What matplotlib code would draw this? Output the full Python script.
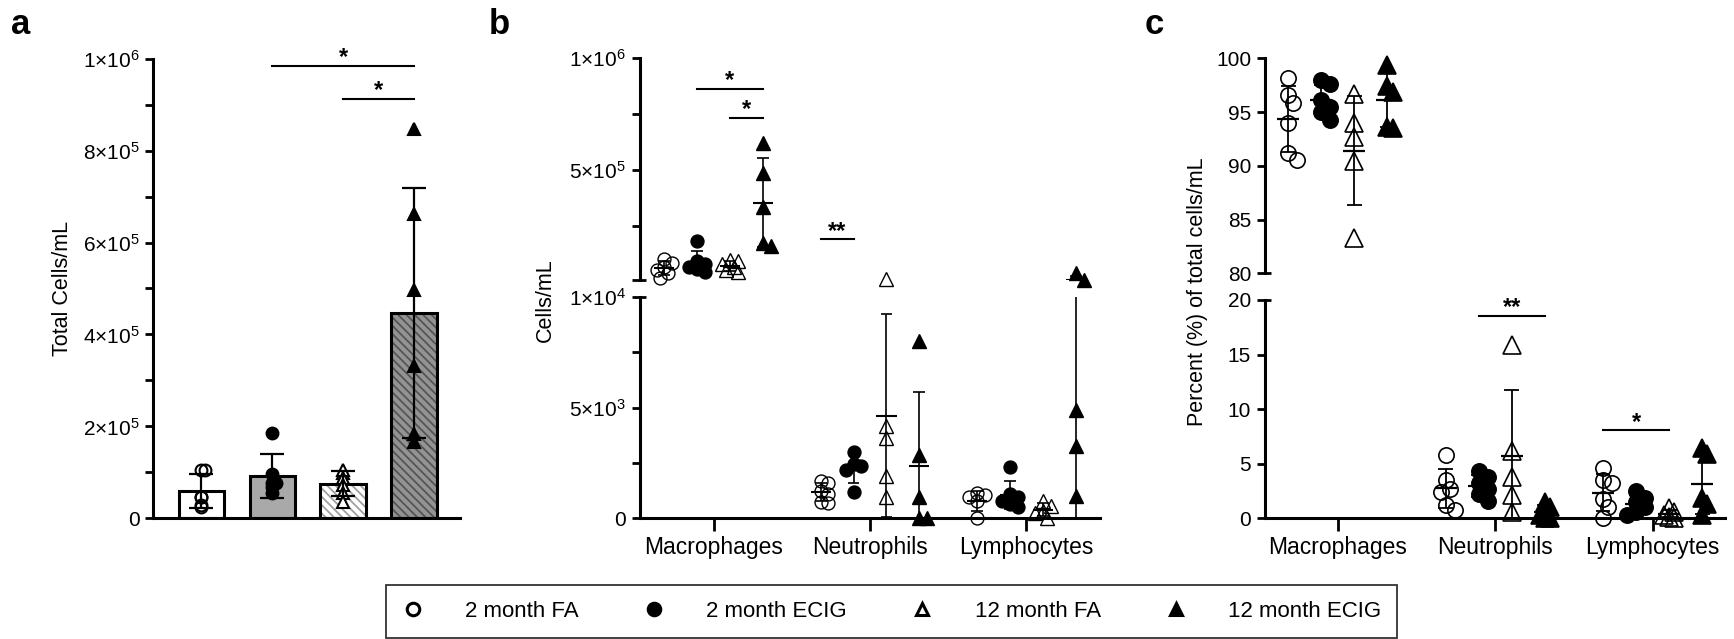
import numpy as np
import matplotlib
matplotlib.use("Agg")
import matplotlib.pyplot as plt
from matplotlib.lines import Line2D

plt.rcParams['font.family'] = ['Liberation Sans', 'DejaVu Sans']
plt.rcParams['mathtext.fontset'] = 'custom'
plt.rcParams['mathtext.rm'] = 'Liberation Sans'
plt.rcParams['mathtext.it'] = 'Liberation Sans:italic'
plt.rcParams['mathtext.bf'] = 'Liberation Sans:bold'
plt.rcParams['hatch.linewidth'] = 1.3

W, H = 1734, 639

groups = ['2 month FA', '2 month ECIG', '12 month FA', '12 month ECIG']
cell_types = ['Macrophages', 'Neutrophils', 'Lymphocytes']

# panel a - total cells/mL per animal
total_fa2 = [105e3, 105e3, 47e3, 29e3, 25e3, 46e3]
total_ecig2 = [186e3, 96e3, 76e3, 69e3, 76e3, 54e3]
total_fa12 = [98e3, 105e3, 87e3, 72e3, 56e3, 36e3]
total_ecig12 = [846e3, 662e3, 496e3, 331e3, 167e3, 183e3]

# panel b - cells/mL by cell type (fa2, ecig2, fa12, ecig12)
mac_cells = [[105e3, 85e3, 70e3, 55e3, 40e3, 20e3],
             [185e3, 95e3, 80e3, 70e3, 60e3, 45e3],
             [100e3, 95e3, 80e3, 70e3, 55e3, 45e3],
             [620e3, 487e3, 337e3, 175e3, 160e3]]
neu_cells = [[1700, 1600, 1250, 1100, 750, 700],
             [3000, 2450, 2350, 2200, 1200],
             [12500, 4150, 3650, 1900, 950],
             [8000, 2850, 950, 0, 0]]
lym_cells = [[1150, 1050, 950, 800, 0],
             [2300, 1100, 950, 800, 650, 500],
             [800, 550, 350, 250, 0],
             [40000, 10500, 4900, 3250, 1000]]

# panel c - percent of total cells/mL
mac_pct = [[98.2, 96.6, 95.8, 94.0, 91.2, 90.5],
           [98.0, 97.6, 96.1, 95.5, 95.0, 94.3],
           [96.7, 94.0, 92.7, 90.4, 83.3],
           [99.4, 97.4, 96.9, 93.6, 93.5]]
neu_pct = [[5.8, 3.5, 2.7, 2.4, 1.2, 0.8],
           [4.3, 3.8, 3.2, 2.7, 2.2, 1.6],
           [15.9, 6.2, 3.8, 2.1, 0.6],
           [1.5, 1.0, 0.3, 0.0, 0.0]]
lym_pct = [[4.6, 3.5, 3.2, 1.8, 1.0, 0.0],
           [2.5, 1.9, 1.5, 1.0, 0.6, 0.3],
           [0.9, 0.6, 0.3, 0.1, 0.0],
           [6.4, 5.9, 1.9, 1.3, 0.3]]

# significance bars: (category, group_from, group_to), height, label
sig_a_pairs = [(1, 3), (2, 3)]
sig_a_heights = [9.85e5, 9.13e5]
sig_b_pairs = [(0, 1, 3), (0, 2, 3), (1, 0, 1)]
sig_b_heights = [8.65e5, 7.35e5, 1.91e5]
sig_b_labels = ['*', '*', '**']
sig_c_pairs = [(1, 1, 3), (2, 0, 2)]
sig_c_heights = [18.56, 8.06]
sig_c_labels = ['**', '*']

offsets = np.array([-1.5, -0.5, 0.5, 1.5]) * 0.21
markers = ['o', 'o', '^', '^']
filled = [False, True, False, True]


def rect(x0, y0, x1, y1):
    # pixel box (top-left origin) -> figure fraction
    return [x0 / W, 1 - y1 / H, (x1 - x0) / W, (y1 - y0) / H]


def sci_label(v):
    if v == 0:
        return '0'
    e = int(np.floor(np.log10(v)))
    return r'$\mathregular{%d{\times}10^{%d}}$' % (round(v / 10 ** e), e)


def swarm_x(ax, xc, vals, ms, maxoff, frac=0.85):
    # simple beeswarm in pixel space so stacked points spread sideways
    vals = np.asarray(vals, float)
    if len(vals) == 0:
        return vals
    d = ms * fig.dpi / 72 * frac
    pts = ax.transData.transform(np.column_stack([np.full(len(vals), xc), vals]))
    x0 = pts[0, 0]
    cands = [0.0]
    k = 1
    while k * d / 2 <= maxoff:
        cands += [k * d / 2, -k * d / 2]
        k += 1
    placed = []
    xs = np.empty(len(vals))
    for i in np.argsort(-vals):
        y = pts[i, 1]
        best, bestd = 0.0, -1
        for off in cands:
            md = min([np.hypot(off - px, y - py) for px, py in placed] + [1e9])
            if md >= d:
                best = off
                break
            if md > bestd:
                best, bestd = off, md
        placed.append((best, y))
        xs[i] = x0 + best
    return ax.transData.inverted().transform(np.column_stack([xs, pts[:, 1]]))[:, 0]


def style_yaxis(ax):
    for s in ['top', 'right']:
        ax.spines[s].set_visible(False)
    ax.spines['left'].set_linewidth(2.2)
    ax.spines['bottom'].set_linewidth(2.2)
    ax.tick_params(axis='y', length=6, width=2, labelsize=15, pad=4)
    ax.tick_params(axis='y', which='minor', length=6, width=2)


def end_cap(ax, y):
    ax.plot([0, 0.014], [y, y], transform=ax.get_yaxis_transform(), color='k',
            lw=2, clip_on=False, solid_capstyle='butt')


def seg_errorbar(ax, xc, m, s, lo, hi, capw, meanw, lw):
    # mean +/- SD, only the part that falls inside this axis segment
    a, b = max(m - s, lo), min(m + s, hi)
    if b > a:
        ax.vlines(xc, a, b, color='k', lw=lw, zorder=4)
    for y in (m - s, m + s):
        if lo <= y <= hi:
            ax.hlines(y, xc - capw / 2, xc + capw / 2, color='k', lw=lw, zorder=4)
    if lo <= m <= hi:
        ax.hlines(m, xc - meanw / 2, xc + meanw / 2, color='k', lw=lw + 0.3, zorder=4)


def draw_cats(ax, cat_data, split, upper, ms_c, ms_t, mew, elw, capw, meanw):
    lo, hi = ax.get_ylim()
    for ci, data in enumerate(cat_data):
        for gi, vals in enumerate(data):
            vals = np.asarray(vals, float)
            xc = ci + offsets[gi]
            seg_errorbar(ax, xc, vals.mean(), vals.std(ddof=1), lo, hi, capw, meanw, elw)
            sel = vals[vals > split] if upper else vals[vals <= split]
            if len(sel) == 0:
                continue
            ms = ms_c if markers[gi] == 'o' else ms_t
            xs = swarm_x(ax, xc, sel, ms, 10, 0.6)
            ax.plot(xs, sel, linestyle='none', marker=markers[gi], ms=ms,
                    mfc='k' if filled[gi] else 'none', mec='k', mew=mew,
                    clip_on=False, zorder=3.5)


def sig_line(ax, x1, x2, y, label, off=1):
    ax.plot([x1, x2], [y, y], color='k', lw=1.5, clip_on=False)
    ax.annotate(label, ((x1 + x2) / 2, y), xytext=(0, off), textcoords='offset points',
                ha='center', va='baseline', fontsize=17, fontweight='bold', annotation_clip=False)


fig = plt.figure(figsize=(W / 100, H / 100), dpi=100)

# ---------------- panel a ----------------
axa = fig.add_axes(rect(153.3, 58.7, 460, 518.3))
totals = [total_fa2, total_ecig2, total_fa12, total_ecig12]
bar_fill = ['white', '#a9a9a9', 'white', '#939393']
bar_hatch = [None, None, '\\\\\\\\', '\\\\\\\\']
hatch_col = ['k', 'k', '#a0a0a0', '#555555']
means_a = [np.mean(t) for t in totals]
sds_a = [np.std(t, ddof=1) for t in totals]
xa = np.arange(4)
for i in range(4):
    axa.bar(xa[i], means_a[i], width=0.64, color=bar_fill[i], hatch=bar_hatch[i],
            edgecolor=hatch_col[i], linewidth=0, zorder=1)
    axa.bar(xa[i], means_a[i], width=0.64, fill=False, edgecolor='k', linewidth=2.2, zorder=1.5)
axa.errorbar(xa, means_a, yerr=sds_a, fmt='none', ecolor='k', elinewidth=1.6,
             capsize=8.5, capthick=1.6, zorder=4)
for i in range(4):
    xs = swarm_x(axa, xa[i], totals[i], 8.5, 18, 1.4)
    axa.plot(xs, totals[i], linestyle='none', marker=markers[i], ms=8.5,
             mfc='k' if filled[i] else ('white' if markers[i] == '^' else 'none'),
             mec='k', mew=1.5, clip_on=False, zorder=3.5)
axa.set_xlim(-0.68, 3.65)
axa.set_ylim(0, 1e6)
yt = np.arange(0, 1.01e6, 2e5)
axa.set_yticks(yt, [sci_label(v) for v in yt])
axa.set_yticks(np.arange(1e5, 1e6, 2e5), minor=True)
style_yaxis(axa)
axa.tick_params(axis='x', bottom=False, labelbottom=False)
for (g1, g2), h in zip(sig_a_pairs, sig_a_heights):
    sig_line(axa, xa[g1], xa[g2], h, '*')

# ---------------- panel b ----------------
bt = fig.add_axes(rect(640, 58.3, 1100, 280))
bb = fig.add_axes(rect(640, 297, 1100, 518.3), sharex=bt)
cells = [mac_cells, neu_cells, lym_cells]
for ax in (bt, bb):
    ax.set_xlim(-0.47, 2.47)
bt.set_ylim(1e4, 1e6)
bb.set_ylim(0, 1e4)
draw_cats(bt, cells, 1e4, True, 9.3, 9.5, 1.0, 1.2, 0.075, 0.13)
draw_cats(bb, cells, 1e4, False, 9.3, 9.5, 1.0, 1.2, 0.075, 0.13)
bt.set_yticks([1e4, 2.5e5, 5e5, 7.5e5, 1e6], ['', '', sci_label(5e5), '', sci_label(1e6)])
bb.set_yticks([0, 2500, 5000, 7500, 10000], ['0', '', sci_label(5e3), '', sci_label(1e4)])

# ---------------- panel c ----------------
ct = fig.add_axes(rect(1265, 58.3, 1725, 273.3))
cb = fig.add_axes(rect(1265, 300, 1725, 518.3), sharex=ct)
pcts = [mac_pct, neu_pct, lym_pct]
for ax in (ct, cb):
    ax.set_xlim(-0.462, 2.46)
ct.set_ylim(80, 100)
cb.set_ylim(0, 20)
draw_cats(ct, pcts, 50, True, 11, 12.5, 1.2, 1.3, 0.095, 0.14)
draw_cats(cb, pcts, 50, False, 11, 12.5, 1.2, 1.3, 0.095, 0.14)
ct.set_yticks(np.arange(80, 101, 5))
cb.set_yticks(np.arange(0, 21, 5))

for top, bot, ylo, yhi in [(bt, bb, 1e4, 1e4), (ct, cb, 80, 20)]:
    style_yaxis(top)
    style_yaxis(bot)
    top.spines['bottom'].set_visible(False)
    top.tick_params(axis='x', bottom=False, labelbottom=False)
    bot.set_xticks([0, 1, 2], cell_types)
    bot.tick_params(axis='x', length=9, width=2, labelsize=16.5, pad=4)
    end_cap(top, ylo)
    end_cap(bot, yhi)

for (c, g1, g2), h, lab in zip(sig_b_pairs, sig_b_heights, sig_b_labels):
    sig_line(bt, c + offsets[g1], c + offsets[g2], h, lab)
for (c, g1, g2), h, lab in zip(sig_c_pairs, sig_c_heights, sig_c_labels):
    sig_line(cb, c + offsets[g1], c + offsets[g2], h, lab)

# axis titles and panel letters
fig.text(63 / W, 1 - 288.5 / H, 'Total Cells/mL', rotation=90, ha='center', va='center', fontsize=15.5)
fig.text(545 / W, 1 - 300 / H, 'Cells/mL', rotation=90, ha='center', va='center', fontsize=15.5)
fig.text(1197 / W, 1 - 292 / H, 'Percent (%) of total cells/mL', rotation=90, ha='center',
         va='center', fontsize=15.5)
for lx, letter in [(11, 'a'), (489, 'b'), (1145, 'c')]:
    fig.text(lx / W, 1 - 34.5 / H, letter, fontsize=25, fontweight='bold', va='baseline')

# legend
handles = [Line2D([], [], linestyle='none', marker=markers[i], ms=9,
                  mfc='k' if filled[i] else 'none', mec='k', mew=2.2) for i in range(4)]
leg = fig.legend(handles, groups, loc='center', bbox_to_anchor=(891.5 / W, 1 - 611.5 / H),
                 ncol=4, fontsize=16, handlelength=1.0, handletextpad=1.85, columnspacing=2.9,
                 borderpad=0.7, frameon=True, fancybox=False, edgecolor='k')
leg.get_frame().set_linewidth(1.3)

fig.savefig('out.png', dpi=100)
